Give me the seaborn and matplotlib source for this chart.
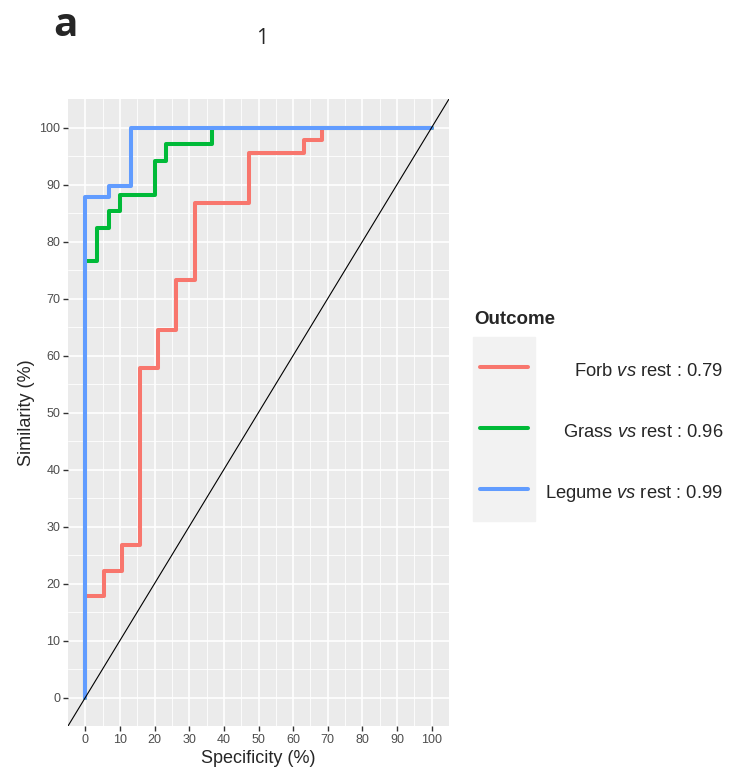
import pandas as pd
import matplotlib.pyplot as plt
from matplotlib.lines import Line2D
from matplotlib.patches import Rectangle
import seaborn as sns

# ROC step curves (specificity axis as drawn, sensitivity in %)
outcomes = ['Forb', 'Grass', 'Legume']
auc = [0.79, 0.96, 0.99]
colors = ['#F8766D', '#00BA38', '#619CFF']

forb_x = [0, 0, 5.3, 10.5, 15.8, 21.1, 26.3, 31.6, 47.4, 63.2, 68.4, 100]
forb_y = [0, 17.8, 22.2, 26.7, 57.8, 64.4, 73.3, 86.7, 95.6, 97.8, 100, 100]
grass_x = [0, 0, 3.3, 6.7, 10.0, 20.0, 23.3, 36.7, 100]
grass_y = [0, 76.5, 82.4, 85.3, 88.2, 94.1, 97.1, 100, 100]
legume_x = [0, 0, 6.7, 13.3, 100]
legume_y = [0, 87.8, 89.8, 100, 100]

ticks = list(range(0, 101, 10))

frames = []
for name, xs, ys in zip(outcomes, [forb_x, grass_x, legume_x], [forb_y, grass_y, legume_y]):
    frames.append(pd.DataFrame({'spec': xs, 'sens': ys, 'Outcome': name}))
data = pd.concat(frames, ignore_index=True)

sns.set_style('darkgrid', {'axes.facecolor': '#EBEBEB', 'grid.color': 'white'})
plt.rcParams['font.family'] = ['Liberation Sans', 'DejaVu Sans']
plt.rcParams['mathtext.fontset'] = 'custom'
plt.rcParams['mathtext.it'] = 'Liberation Sans:italic'
plt.rcParams['mathtext.rm'] = 'Liberation Sans'

fig = plt.figure(figsize=(7.31, 7.78), dpi=100)
W, H = 731, 778
ax = fig.add_axes([68 / W, 1 - 726 / H, (449 - 68) / W, (726 - 99) / H])

sns.lineplot(data=data, x='spec', y='sens', hue='Outcome', hue_order=outcomes,
             palette=colors, estimator=None, drawstyle='steps-post',
             linewidth=2.9, legend=False, ax=ax, zorder=3)
ax.axline((0, 0), (100, 100), color='black', linewidth=0.8, zorder=4)

ax.set_xlim(-5, 105)
ax.set_ylim(-5, 105)
ax.set_xticks(ticks)
ax.set_yticks(ticks)
ax.set_xticks(range(5, 100, 10), minor=True)
ax.set_yticks(range(5, 100, 10), minor=True)
ax.grid(which='major', color='white', linewidth=1.2)
ax.grid(which='minor', color='white', linewidth=0.6)
ax.tick_params(which='major', length=3.5, width=1, color='#333333',
               labelsize=9, labelcolor='#4D4D4D', pad=2,
               bottom=True, left=True)
ax.tick_params(which='minor', length=0)
for s in ax.spines.values():
    s.set_visible(False)
ax.set_xlabel('Specificity (%)', fontsize=13, labelpad=3)
ax.set_ylabel('Similarity (%)', fontsize=13, labelpad=3)

# panel letter and page marker
fig.text(53 / W, 1 - 25 / H, 'a', fontsize=29, fontweight='bold',
         family=['Open Sans', 'DejaVu Sans'], va='center')
fig.text(262 / W, 1 - 38 / H, '1', fontsize=15, ha='center', va='center',
         family=['Open Sans', 'DejaVu Sans'])

# ggplot-style legend
fig.text(474 / W, 1 - 319 / H, 'Outcome', fontsize=13.5, fontweight='bold', va='center')
fig.add_artist(Rectangle((473 / W, 1 - 521 / H), (535 - 473) / W, (521 - 337) / H,
                         transform=fig.transFigure, color='#F2F2F2', zorder=0))
for i, (name, a, c) in enumerate(zip(outcomes, auc, colors)):
    yl = 367 + i * 61
    fig.add_artist(Line2D([480 / W, 528 / W], [1 - yl / H, 1 - yl / H],
                          transform=fig.transFigure, color=c, linewidth=2.9))
    fig.text(723 / W, 1 - (yl + 4) / H, f'{name} $\\mathit{{vs}}$ rest : {a:.2f}',
             fontsize=13.2, ha='right', va='center')

fig.savefig('out.png', dpi=100)
